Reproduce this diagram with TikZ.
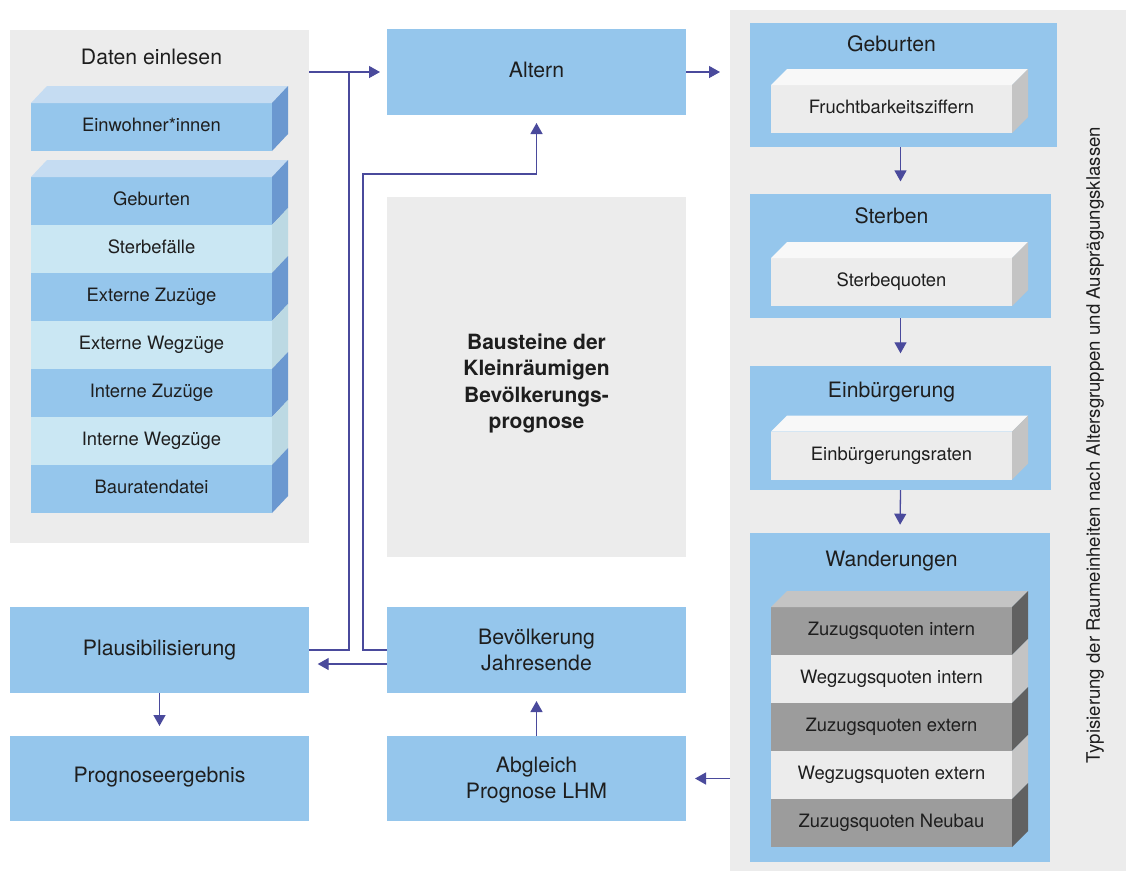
\documentclass[tikz,border=0pt]{standalone}
\usepackage{fontspec}
\setmainfont{TeX Gyre Heros}
\usetikzlibrary{arrows.meta}
\definecolor{blu}{HTML}{95C6EC}
\definecolor{pgrey}{HTML}{ECECEC}
\definecolor{txt}{HTML}{1E1E1E}
\definecolor{arrc}{HTML}{4A4A9C}
\definecolor{btop}{HTML}{C5DCF2}
\definecolor{bside}{HTML}{6B98D0}
\definecolor{lfront}{HTML}{CAE7F3}
\definecolor{lside}{HTML}{BCD9E3}
\definecolor{gtop}{HTML}{F8F8F8}
\definecolor{gside}{HTML}{C4C4C4}
\definecolor{dfront}{HTML}{9C9C9C}
\definecolor{dside}{HTML}{616161}
\definecolor{wfront}{HTML}{ECECEC}
\newcommand\ttlf{\fontsize{21.2}{26}\selectfont}
\newcommand\lblf{\fontsize{18.4}{22}\selectfont}
\newcommand\vtf{\fontsize{18.6}{22}\selectfont}
\newcommand\bldf{\fontsize{21}{26.4}\selectfont\bfseries}
\newcommand\faceside[3]{\fill[#2] (#1.north east) -- ++(16,-#3) -- ([shift={(16,-#3)}]#1.south east) -- (#1.south east) -- cycle;}
\newcommand\facetop[3]{\fill[#2] (#1.north west) -- ++(16,-#3) -- ([shift={(16,-#3)}]#1.north east) -- (#1.north east) -- cycle;}
\begin{document}
\begin{tikzpicture}[x=1pt,y=-1pt,
  every node/.style={inner sep=0pt, outer sep=0pt, text=txt},
  panel/.style={fill=pgrey, anchor=north west},
  bbox/.style={fill=blu, anchor=north west, font=\ttlf, text height=15.1pt, text depth=4pt},
  layer/.style={anchor=north west, minimum width=241pt, minimum height=48pt, font=\lblf, text height=12.9pt, text depth=3pt},
  ttl/.style={font=\ttlf, anchor=base},
  ln/.style={draw=arrc, line width=1.3pt},
  arr/.style={draw=arrc, line width=1.3pt, -{Triangle[length=11pt,width=12pt]}}]
\useasboundingbox[fill=white] (0,0) rectangle (1126,871);
% panels
\node[panel, minimum width=299pt, minimum height=513pt] (daten) at (10,30) {};
\node[panel, minimum width=396pt, minimum height=861pt] (rpanel) at (730,10) {};
\node[panel, minimum width=299pt, minimum height=360pt] (ctr) at (387,197) {};
\node[font=\bldf, align=center] (ctrtxt) at (536.5,383.3) {Bausteine der\\Kleinräumigen\\Bevölkerungs-\\prognose};
% blue boxes
\node[bbox, minimum width=299pt, minimum height=86pt] (alt) at (387,29) {Altern};
\node[bbox, minimum width=299pt, minimum height=86pt, align=center, text height=, text depth=] (bev) at (387,607) {Bevölkerung\\Jahresende};
\node[bbox, minimum width=299pt, minimum height=85pt, align=center, text height=, text depth=, text depth=2pt] (abg) at (387,736) {Abgleich\\Prognose LHM};
\node[bbox, minimum width=299pt, minimum height=86pt] (plaus) at (10,607) {Plausibilisierung};
\node[bbox, minimum width=299pt, minimum height=85pt, text depth=7pt] (prog) at (10,736) {Prognoseergebnis};
\node[bbox, minimum width=307pt, minimum height=124pt] (geb) at (750,23) {};
\node[bbox, minimum width=301pt, minimum height=124pt] (ster) at (750,194) {};
\node[bbox, minimum width=301pt, minimum height=124pt] (einb) at (750,366) {};
\node[bbox, minimum width=300pt, minimum height=329pt] (wand) at (750,533) {};
% titles
\node[ttl] (tdaten) at (151.5,64.3) {Daten einlesen};
\node[ttl] (tgeb) at (891.5,51.7) {Geburten};
\node[ttl] (tster) at (891.5,223.3) {Sterben};
\node[ttl] (teinb) at (891.5,397.3) {Einbürgerung};
\node[ttl] (twand) at (891.5,566.7) {Wanderungen};
% left stacks
\node[layer, fill=blu] (ew) at (31,103) {Einwohner*innen};
\facetop{ew}{btop}{17}
\faceside{ew}{bside}{17}
\node[layer, fill=blu] (s1) at (31,177) {Geburten};
\node[layer, fill=lfront] (s2) at (31,225) {Sterbefälle};
\node[layer, fill=blu] (s3) at (31,273) {Externe Zuzüge};
\node[layer, fill=lfront] (s4) at (31,321) {Externe Wegzüge};
\node[layer, fill=blu] (s5) at (31,369) {Interne Zuzüge};
\node[layer, fill=lfront] (s6) at (31,417) {Interne Wegzüge};
\node[layer, fill=blu] (s7) at (31,465) {Bauratendatei};
\facetop{s1}{btop}{17}
\faceside{s1}{bside}{17}
\faceside{s2}{lside}{17}
\faceside{s3}{bside}{17}
\faceside{s4}{lside}{17}
\faceside{s5}{bside}{17}
\faceside{s6}{lside}{17}
\faceside{s7}{bside}{17}
% right inner cubes
\node[layer, fill=wfront] (fz) at (771,85) {Fruchtbarkeitsziffern};
\facetop{fz}{gtop}{16}
\faceside{fz}{gside}{16}
\node[layer, fill=wfront] (sq) at (771,258) {Sterbequoten};
\facetop{sq}{gtop}{16}
\faceside{sq}{gside}{16}
\node[layer, fill=wfront] (er) at (771,431.5) {Einbürgerungsraten};
\facetop{er}{gtop}{16}
\faceside{er}{gside}{16}
\node[layer, fill=dfront] (w1) at (771,607) {Zuzugsquoten intern};
\node[layer, fill=wfront] (w2) at (771,655) {Wegzugsquoten intern};
\node[layer, fill=dfront] (w3) at (771,703) {Zuzugsquoten extern};
\node[layer, fill=wfront] (w4) at (771,751) {Wegzugsquoten extern};
\node[layer, fill=dfront] (w5) at (771,799) {Zuzugsquoten Neubau};
\facetop{w1}{gside}{16}
\faceside{w1}{dside}{16}
\faceside{w2}{gside}{16}
\faceside{w3}{dside}{16}
\faceside{w4}{gside}{16}
\faceside{w5}{dside}{16}
% vertical text
\node[rotate=90, font=\vtf] (typ) at (1095,445) {Typisierung der Raumeinheiten nach Altersgruppen und Ausprägungsklassen};
% connectors
\coordinate (j1) at (349,72);
\coordinate (k1) at (363,174);
\draw[arr, shorten >=7pt] (alt.west -| daten.east) -- (alt.west);
\draw[ln] (plaus.east) -| (j1);
\draw[arr, shorten >=8pt] (bev.west) -| (k1) -| (alt.south);
\draw[arr, shorten >=8.7pt] ([yshift=-14pt]bev.west) -- ([yshift=-14pt]bev.west -| plaus.east);
\draw[arr, shorten >=10pt] (plaus.south) -- (prog.north);
\draw[arr, shorten >=8pt] (abg.north) -- (bev.south);
\draw[arr, shorten >=9pt] (abg.east -| rpanel.west) -- (abg.east);
\draw[arr, shorten >=10pt] (alt.east) -- (alt.east -| rpanel.west);
\draw[arr, shorten >=12.6pt] (ster.north |- geb.south) -- (ster.north);
\draw[arr, shorten >=12.7pt] (ster.south) -- (einb.north);
\draw[arr, shorten >=8.3pt] (einb.south) -- (wand.north);
\end{tikzpicture}
\end{document}
